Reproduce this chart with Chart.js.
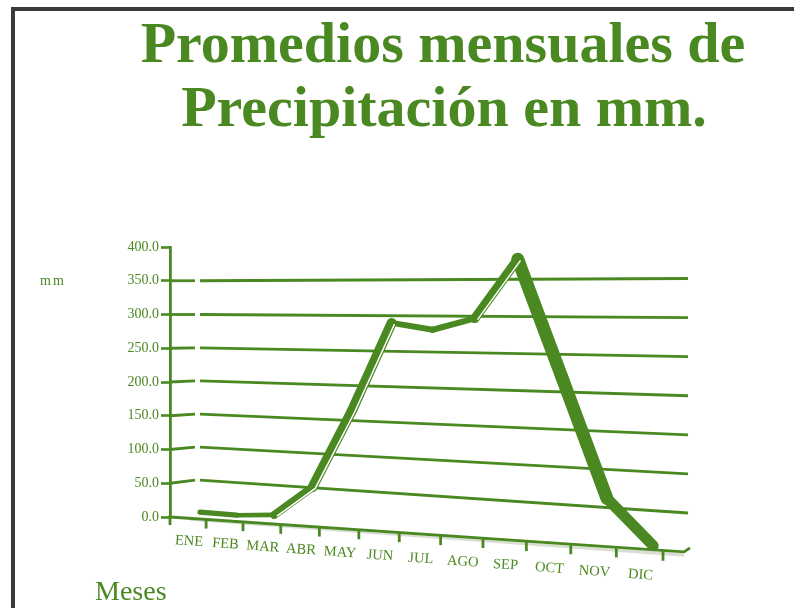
<!DOCTYPE html>
<html lang="es">
<head>
<meta charset="utf-8">
<title>Promedios mensuales de Precipitación en mm.</title>
<script src="https://cdn.jsdelivr.net/npm/chart.js"></script>
<style>
    html, body { margin: 0; padding: 0; background: #ffffff; }
    #grafico { display: block; }
</style>
</head>
<body>
<canvas id="grafico" width="794" height="608"></canvas>
<script>
// ===== DATOS =====
const meses = ['ENE', 'FEB', 'MAR', 'ABR', 'MAY', 'JUN', 'JUL', 'AGO', 'SEP', 'OCT', 'NOV', 'DIC'];
const precipitacion = [9, 8, 12, 55, 165, 290, 281, 297, 377, 220, 62, 4];
const marcasEjeY = [0, 50, 100, 150, 200, 250, 300, 350, 400];
const titulo = ['Promedios mensuales de', 'Precipitación en mm.'];
const tituloEjeY = 'mm';
const tituloEjeX = 'Meses';

// ===== ESTILO =====
const VERDE = '#4a8821';
const SERIF = "'Liberation Serif', 'Times New Roman', serif";
const PUNTO_FUGA = { x: -3108, y: 295 };   // the wall recedes towards the left
const FIN_PARED = 688;                      // right end of the wall grid lines
const FRENTE = 12;                          // ribbon sits in front of the wall
const GROSOR = 4.5;                         // ribbon width when flat
const EXTRA_SUBIDA = 6;                     // extra width seen on rising parts
const EXTRA_BAJADA = 9;                     // extra width seen on falling parts

// Project a flat chart position onto the receding wall
function proyectar(area, fx, fy) {
    const a0 = 1 / (area.left - PUNTO_FUGA.x);
    const a1 = 1 / (area.right - PUNTO_FUGA.x);
    const t = (fx - area.left) / (area.right - area.left);
    const sx = PUNTO_FUGA.x + 1 / (a0 + t * (a1 - a0));
    const s = (sx - PUNTO_FUGA.x) / (area.left - PUNTO_FUGA.x);
    return { x: sx, y: PUNTO_FUGA.y + (fy - PUNTO_FUGA.y) * s, s: s };
}

// y of a wall line (given by its height at the axis) at screen x
function yEnX(area, fy, sx) {
    const s = (sx - PUNTO_FUGA.x) / (area.left - PUNTO_FUGA.x);
    return PUNTO_FUGA.y + (fy - PUNTO_FUGA.y) * s;
}

function anchoCinta(c) {
    const dx = c.p1.x - c.p0.x, dy = c.p1.y - c.p0.y;
    const sen = Math.abs(dy) / (Math.hypot(dx, dy) || 1);
    return GROSOR + (dy < 0 ? EXTRA_SUBIDA : EXTRA_BAJADA) * sen;
}

function esSubida(c) {
    return (c.p1.y - c.p0.y) / (c.p1.x - c.p0.x) < -0.4;
}

// Move the points the controller computed onto the wall
const perspectiva = {
    id: 'perspectiva',
    afterDatasetsUpdate(chart) {
        const area = chart.chartArea;
        chart.data.datasets.forEach((ds, i) => {
            const meta = chart.getDatasetMeta(i);
            const off = ds.desplazamiento || [0, 0];
            meta.data.forEach(pt => {
                const p = proyectar(area, pt.x, pt.y);
                pt.x = p.x + FRENTE * p.s + off[0];
                pt.y = p.y + off[1];
            });
            if (meta.dataset) meta.dataset.points = meta.dataset.points;
        });
    }
};

// Frame, wall grid, floor and month axis
const pared = {
    id: 'pared',
    beforeDraw(chart) {
        const ctx = chart.ctx;
        ctx.save();
        ctx.fillStyle = '#ffffff';
        ctx.fillRect(0, 0, chart.width, chart.height);
        ctx.fillStyle = '#3a3a3a';
        ctx.fillRect(11, 7, chart.width - 11, 4);
        ctx.fillRect(11, 7, 4, chart.height - 7);
        ctx.restore();
    },
    beforeDatasetsDraw(chart) {
        const ctx = chart.ctx;
        const area = chart.chartArea;
        const yS = chart.scales.y;
        const xS = chart.scales.x;
        ctx.save();
        ctx.strokeStyle = VERDE;
        ctx.lineWidth = 2.8;

        // wall grid lines
        marcasEjeY.slice(1, -1).forEach(v => {
            const yA = yS.getPixelForValue(v);
            const d = Math.max(0, yA - 330) * 0.02;
            ctx.beginPath();
            ctx.moveTo(area.left, yA);
            ctx.lineTo(area.left + 25, yA - d);
            ctx.stroke();
            ctx.beginPath();
            ctx.moveTo(area.left + 30, yA - d);
            ctx.lineTo(FIN_PARED, yEnX(area, yA, FIN_PARED));
            ctx.stroke();
        });

        // floor strip
        const y0 = yS.getPixelForValue(0);
        const finSuelo = FIN_PARED - 4;
        ctx.fillStyle = 'rgba(185, 195, 175, 0.55)';
        ctx.beginPath();
        ctx.moveTo(area.left + 20, yEnX(area, y0, area.left + 20) + 1.5);
        ctx.lineTo(finSuelo, yEnX(area, y0, finSuelo) + 1.5);
        ctx.lineTo(finSuelo, yEnX(area, y0, finSuelo) + 5);
        ctx.lineTo(area.left + 20, yEnX(area, y0, area.left + 20) + 2.5);
        ctx.closePath();
        ctx.fill();

        // month axis
        ctx.beginPath();
        ctx.moveTo(area.left, y0);
        ctx.lineTo(finSuelo, yEnX(area, y0, finSuelo));
        ctx.lineTo(FIN_PARED + 2, yEnX(area, y0, finSuelo) - 4);
        ctx.stroke();
        ctx.beginPath();
        ctx.moveTo(area.left, y0 - 2);
        ctx.lineTo(area.left, y0 + 8);
        ctx.stroke();
        for (let i = 1; i <= meses.length; i++) {
            const p = proyectar(area, xS.getPixelForDecimal(i / meses.length), y0);
            ctx.beginPath();
            ctx.moveTo(p.x, p.y);
            ctx.lineTo(p.x, p.y + 9 * p.s);
            ctx.stroke();
        }

        // month labels
        const pendiente = Math.atan((y0 - PUNTO_FUGA.y) / (area.left - PUNTO_FUGA.x));
        ctx.fillStyle = VERDE;
        ctx.font = '14.5px ' + SERIF;
        ctx.textAlign = 'center';
        ctx.textBaseline = 'middle';
        meses.forEach((m, i) => {
            const p = proyectar(area, xS.getPixelForValue(i), y0);
            ctx.save();
            ctx.translate(p.x + 1, p.y + 23 * p.s);
            ctx.rotate(pendiente);
            ctx.fillText(m, 0, 0);
            ctx.restore();
        });
        ctx.restore();
    },
    afterDraw(chart) {
        const ctx = chart.ctx;
        ctx.save();
        ctx.fillStyle = VERDE;
        ctx.textAlign = 'center';
        ctx.textBaseline = 'alphabetic';
        ctx.font = 'bold 58px ' + SERIF;
        ctx.fillText(titulo[0], 443, 62);
        ctx.fillText(titulo[1], 444, 126);

        ctx.textAlign = 'left';
        ctx.font = '14px ' + SERIF;
        ctx.letterSpacing = '2px';
        ctx.textBaseline = 'middle';
        ctx.fillText(tituloEjeY, 40, 281);
        ctx.letterSpacing = '0px';

        ctx.textBaseline = 'alphabetic';
        ctx.font = '28px ' + SERIF;
        ctx.fillText(tituloEjeX, 95, 600);
        ctx.restore();
    }
};

new Chart(document.getElementById('grafico'), {
    type: 'line',
    data: {
        labels: meses,
        datasets: [{
            label: 'brillo',
            data: precipitacion,
            order: 0,
            borderColor: '#ffffff',
            borderWidth: 1.5,
            pointRadius: 0,
            clip: false,
            desplazamiento: [2.8, 1.2],
            segment: {
                borderColor: c => esSubida(c) ? '#ffffff' : 'rgba(255,255,255,0)'
            }
        }, {
            label: 'Precipitación',
            data: precipitacion,
            order: 1,
            borderColor: VERDE,
            borderWidth: 6,
            borderCapStyle: 'round',
            borderJoinStyle: 'round',
            pointRadius: 0,
            clip: false,
            segment: {
                borderWidth: anchoCinta
            }
        }]
    },
    options: {
        responsive: false,
        animation: false,
        events: [],
        layout: {
            padding: { left: 110, right: 131, top: 247, bottom: 91 }
        },
        plugins: {
            legend: { display: false },
            tooltip: { enabled: false },
            title: { display: false }
        },
        scales: {
            x: {
                display: false,
                offset: true
            },
            y: {
                min: marcasEjeY[0],
                max: marcasEjeY[marcasEjeY.length - 1],
                afterFit: s => { s.width = 60; },
                ticks: {
                    stepSize: marcasEjeY[1] - marcasEjeY[0],
                    color: VERDE,
                    padding: 2,
                    font: { family: SERIF, size: 14 },
                    callback: v => v.toFixed(1)
                },
                grid: {
                    drawOnChartArea: false,
                    tickLength: 9,
                    tickWidth: 2.6,
                    tickColor: VERDE,
                    color: VERDE
                },
                border: { color: VERDE, width: 2.8 }
            }
        }
    },
    plugins: [perspectiva, pared]
});
</script>
</body>
</html>
